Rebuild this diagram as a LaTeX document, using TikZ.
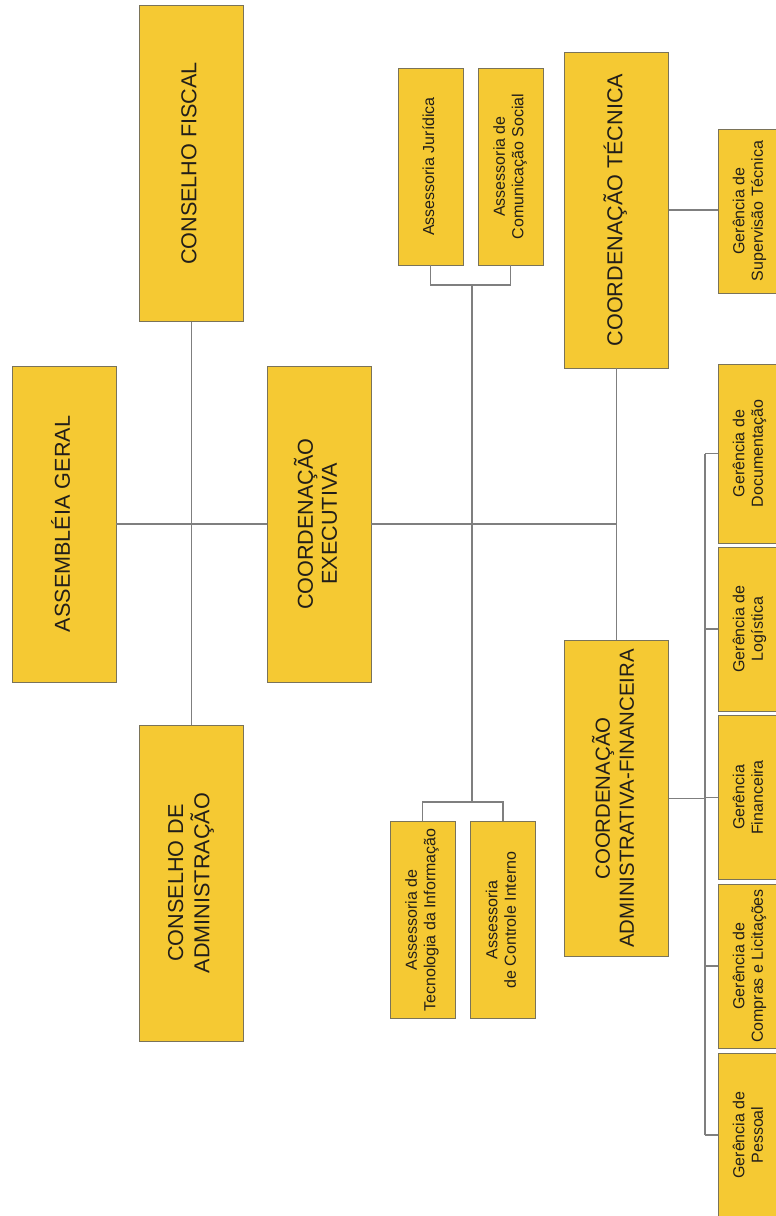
\documentclass[tikz,border=0pt]{standalone}
\usepackage{fontspec}
\setmainfont{Liberation Sans}
\usepackage{graphicx}
\definecolor{boxfill}{RGB}{245,201,51}
\definecolor{boxline}{RGB}{122,115,89}
\definecolor{connline}{RGB}{127,127,127}
\definecolor{textcol}{RGB}{34,30,25}
\newcommand{\vtext}[1]{\rotatebox{90}{\begin{tabular}{@{}c@{}}#1\end{tabular}}}
\tikzset{
	orgbox/.style={draw=boxline, fill=boxfill, line width=0.9pt, inner sep=0pt, text=textcol},
	bigbox/.style={orgbox, minimum width=104pt, minimum height=316pt, font=\fontsize{21.6}{24}\selectfont},
	asbox/.style={orgbox, minimum width=65pt, minimum height=197pt, font=\fontsize{16}{18.5}\selectfont},
	gerbox/.style={orgbox, minimum width=64pt, minimum height=164pt, font=\fontsize{16}{18.5}\selectfont},
	conn/.style={draw=connline, line width=1.1pt}
}
\begin{document}
\begin{tikzpicture}[x=1pt, y=-1pt]
	\clip (0,0) rectangle (776,1216);

	% conselhos e assembleia
	\node[bigbox] (fiscal) at (191.5,163.5) {\vtext{CONSELHO FISCAL}};
	\node[bigbox] (assembleia) at (64,524) {\vtext{ASSEMBLÉIA GERAL}};
	\node[bigbox] (executiva) at (319,524) {\vtext{COORDENAÇÃO\\EXECUTIVA}};
	\node[bigbox] (administracao) at (191.5,883) {\vtext{CONSELHO DE\\ADMINISTRAÇÃO}};
	% coordenacoes
	\node[bigbox] (tecnica) at (616.5,210) {\vtext{COORDENAÇÃO TÉCNICA}};
	\node[bigbox, font=\fontsize{20.4}{24}\selectfont] (adminfin) at (616.5,798.5) {\vtext{COORDENAÇÃO\\ADMINISTRATIVA-FINANCEIRA}};
	% assessorias
	\node[asbox] (juridica) at (430.5,166.5) {\vtext{Assessoria Jurídica}};
	\node[asbox] (comunicacao) at (510.5,166.5) {\vtext{Assessoria de\\Comunicação Social}};
	\node[asbox] (tecnologia) at (422.5,920) {\vtext{Assessoria de\\Tecnologia da Informação}};
	\node[asbox] (controle) at (503,920) {\vtext{Assessoria\\de Controle Interno}};
	% gerencias
	\node[gerbox] (supervisao) at (750,211) {\vtext{Gerência de\\Supervisão Técnica}};
	\node[gerbox, minimum height=179pt] (documentacao) at (750,453.5) {\vtext{Gerência de\\Documentação}};
	\node[gerbox] (logistica) at (750,629) {\vtext{Gerência de\\Logística}};
	\node[gerbox] (financeira) at (750,797.5) {\vtext{Gerência\\Financeira}};
	\node[gerbox] (compras) at (750,966) {\vtext{Gerência de\\Compras e Licitações}};
	\node[gerbox] (pessoal) at (750,1135) {\vtext{Gerência de\\Pessoal}};

	% pontos de ramificacao
	\coordinate (asstop) at (472,285);
	\coordinate (assbot) at (472,802);
	\coordinate (gerbar) at (705,0);

	% ligacoes principais
	\draw[conn] (fiscal.south) -- (administracao.north);
	\draw[conn] (assembleia.east) -- (executiva.west);
	\draw[conn] (executiva.east) -- (executiva.east -| tecnica.south);
	\draw[conn] (tecnica.south) -- (adminfin.north);
	\draw[conn] (tecnica.east) -- (tecnica.east -| supervisao.west);
	% assessorias
	\draw[conn] (juridica.south) |- (asstop) -| (comunicacao.south);
	\draw[conn] (asstop) -- (assbot);
	\draw[conn] (tecnologia.north) |- (assbot) -| (controle.north);
	% gerencias da coordenacao administrativa-financeira
	\draw[conn] (adminfin.east) -- (adminfin.east -| gerbar);
	\draw[conn] (documentacao.west -| gerbar) -- (pessoal.west -| gerbar);
	\foreach \g in {documentacao,logistica,financeira,compras,pessoal}
		\draw[conn] (\g.west -| gerbar) -- (\g.west);
\end{tikzpicture}
\end{document}
